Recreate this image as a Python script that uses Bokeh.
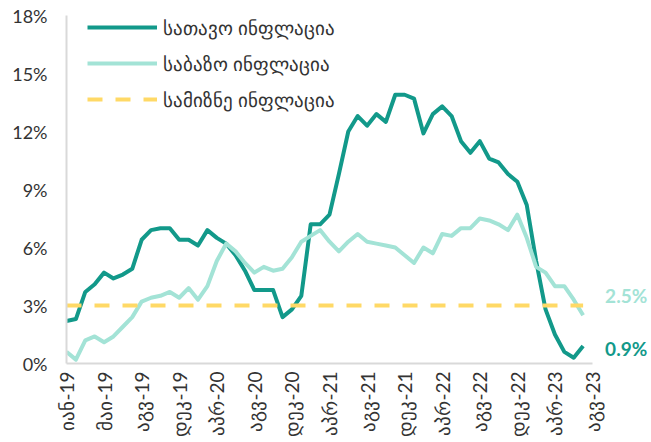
import math
from bokeh.plotting import figure
from bokeh.models import Range1d, FixedTicker, PrintfTickFormatter, Legend, LegendItem, Label
from bokeh.embed import file_html
from bokeh.resources import INLINE

# ---- data ----
tick_labels = ["იან-19", "მაი-19", "აგვ-19", "დეკ-19", "აპრ-20", "აგვ-20", "დეკ-20",
               "აპრ-21", "აგვ-21", "დეკ-21", "აპრ-22", "აგვ-22", "დეკ-22", "აპრ-23", "აგვ-23"]
series_names = ["სათავო ინფლაცია", "საბაზო ინფლაცია", "სამიზნე ინფლაცია"]

headline = [2.2, 2.3, 3.7, 4.1, 4.7, 4.4, 4.6, 4.9, 6.4, 6.9, 7.0, 7.0,
            6.4, 6.4, 6.1, 6.9, 6.5, 6.2, 5.6, 4.8, 3.8, 3.8, 3.8, 2.4,
            2.8, 3.5, 7.2, 7.2, 7.7, 9.8, 12.0, 12.8, 12.3, 12.9, 12.5, 13.9,
            13.9, 13.7, 11.9, 12.9, 13.3, 12.8, 11.5, 10.9, 11.5, 10.6, 10.4, 9.8,
            9.4, 8.2, 5.3, 2.8, 1.5, 0.6, 0.3, 0.9]
core = [0.6, 0.2, 1.2, 1.4, 1.1, 1.4, 1.9, 2.4, 3.2, 3.4, 3.5, 3.7,
        3.4, 3.9, 3.3, 4.0, 5.3, 6.2, 5.8, 5.2, 4.7, 5.0, 4.8, 4.9,
        5.5, 6.3, 6.6, 6.9, 6.3, 5.8, 6.3, 6.7, 6.3, 6.2, 6.1, 6.0,
        5.6, 5.2, 6.0, 5.7, 6.7, 6.6, 7.0, 7.0, 7.5, 7.4, 7.2, 6.9,
        7.7, 6.5, 5.0, 4.7, 4.0, 4.0, 3.3, 2.5]
target_value = 3.0
y_ticks = [0, 3, 6, 9, 12, 15, 18]

months = list(range(len(headline)))
target = [target_value for _ in months]
tick_pos = [4 * i for i in range(len(tick_labels))]

TEAL = "#12998a"
LIGHT = "#a3e3d6"
GOLD = "#ffd966"
GRAY = "#d9d9d9"
TXT = "#333333"
FONT = "Lato"

# frame spans 585 px; the axis itself covers tick_pos range (526 px), rest is room for end labels
x_end = tick_pos[-1] * 585.0 / 526.0

p = figure(width=651, height=442, output_backend="svg", toolbar_location=None,
           x_range=Range1d(tick_pos[0], x_end), y_range=Range1d(y_ticks[0], y_ticks[-1]),
           min_border_left=66, min_border_right=0, min_border_top=15, min_border_bottom=79)
p.outline_line_color = None
p.xgrid.visible = False
p.ygrid.visible = False
p.background_fill_color = "white"
p.border_fill_color = "white"

r1 = p.line(months, headline, line_color=TEAL, line_width=4, line_join="round")
r2 = p.line(months, core, line_color=LIGHT, line_width=4, line_join="round")
r3 = p.line(months, target, line_color=GOLD, line_width=4, line_dash="15 13")

for ax in (p.xaxis[0], p.yaxis[0]):
    ax.axis_line_color = GRAY
    ax.axis_line_width = 2
    ax.major_tick_line_color = None
    ax.minor_tick_line_color = None
    ax.major_tick_in = 0
    ax.major_tick_out = 0
    ax.minor_tick_in = 0
    ax.minor_tick_out = 0
    ax.major_label_text_font = FONT
    ax.major_label_text_color = TXT

p.xaxis.bounds = (tick_pos[0], tick_pos[-1])
p.xaxis.ticker = FixedTicker(ticks=tick_pos)
p.xaxis.major_label_overrides = {pos: lbl for pos, lbl in zip(tick_pos, tick_labels)}
p.xaxis.major_label_orientation = math.pi / 2
p.xaxis.major_label_text_font_size = "19px"
p.xaxis.major_label_standoff = 8
p.yaxis.ticker = FixedTicker(ticks=y_ticks)
p.yaxis.formatter = PrintfTickFormatter(format="%d%%")
p.yaxis.major_label_text_font_size = "18px"
p.yaxis.major_label_standoff = 19

legend = Legend(items=[LegendItem(label=series_names[0], renderers=[r1]),
                       LegendItem(label=series_names[1], renderers=[r2]),
                       LegendItem(label=series_names[2], renderers=[r3])],
                location=(21, 251), orientation="vertical",
                glyph_width=70, glyph_height=26, label_height=26, spacing=10,
                padding=0, margin=0, label_standoff=6,
                label_text_font=FONT, label_text_font_size="19px", label_text_color=TXT,
                border_line_color=None, background_fill_alpha=0)
p.add_layout(legend)

p.add_layout(Label(x=months[-1], y=core[-1], x_offset=22, y_offset=20,
                   text=f"{core[-1]}%", text_color=LIGHT, text_font=FONT,
                   text_font_style="bold", text_font_size="19px", text_baseline="middle"))
p.add_layout(Label(x=months[-1], y=headline[-1], x_offset=22, y_offset=-2,
                   text=f"{headline[-1]}%", text_color=TEAL, text_font=FONT,
                   text_font_style="bold", text_font_size="19px", text_baseline="middle"))

open("out.html", "w").write(file_html(p, INLINE))
